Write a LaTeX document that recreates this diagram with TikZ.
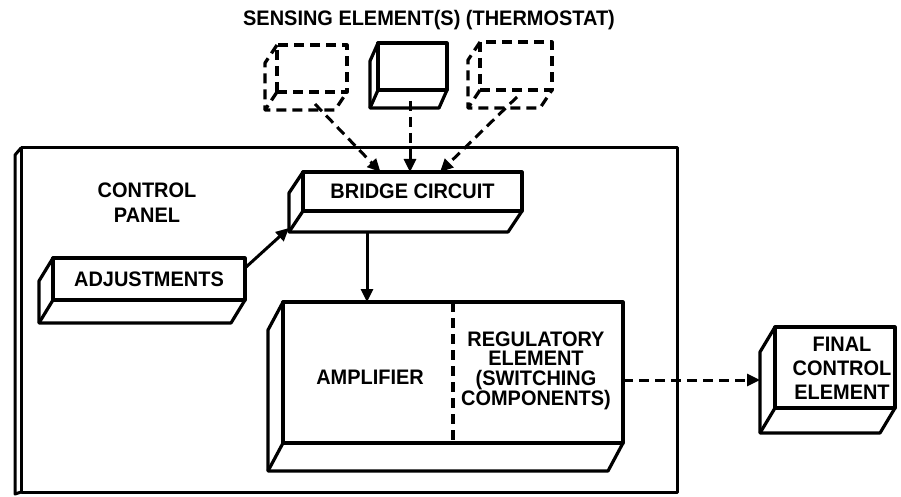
\documentclass[tikz,border=0pt]{standalone}
\usepackage{fontspec}
\setmainfont{Liberation Sans}[FakeStretch=0.95]
\usetikzlibrary{arrows.meta,calc}
\newcommand\depthfaces[4]{%
  \draw[#4] (#1.north west) -- ++(#2,#3) -- ($(#1.south west)+(#2,#3)$) -- ($(#1.south east)+(#2,#3)$) -- (#1.south east);
  \draw[#4] (#1.south west) -- ++(#2,#3);}
\tikzset{
  lbl/.style={font=\bfseries\fontsize{21}{24}\selectfont, align=center, inner sep=0pt},
  face/.style={draw, line width=3.2pt, rectangle, inner sep=0pt, outer sep=0pt, line join=round,
               font=\bfseries\fontsize{21}{24}\selectfont, align=center},
  solidline/.style={line width=3.2pt, line join=round},
  dashline/.style={line width=3.2pt, line join=round, dash pattern=on 10pt off 6pt},
  conn/.style={line width=3pt, -{Triangle[length=13pt,width=12pt]}},
  dconn/.style={conn, dash pattern=on 10pt off 6pt},
}
\begin{document}
\begin{tikzpicture}[x=1pt,y=-1pt]
\useasboundingbox (0,0) rectangle (901,497);
% control panel
\node[face, line width=3pt, minimum width=656pt, minimum height=344pt] (cp) at (349,320) {};
\draw[solidline, line width=3pt] (cp.north west) -- ++(-6,7) -- ($(cp.south west)+(-6,2)$) -- (cp.south west);
\node[lbl, font=\bfseries\fontsize{21}{25}\selectfont] (cpl) at (147,203) {CONTROL\\PANEL};
% title
\node[lbl] (title) at (429,20) {SENSING ELEMENT(S) (THERMOSTAT)};
% sensing elements
\node[face, dashline, minimum width=70pt, minimum height=47pt] (s1) at (312,68.5) {};
\depthfaces{s1}{-12}{18}{dashline}
\node[face, minimum width=69pt, minimum height=47pt] (s2) at (412.5,66.5) {};
\depthfaces{s2}{-8}{18}{solidline}
\node[face, dashline, minimum width=72pt, minimum height=48pt] (s3) at (516,66) {};
\depthfaces{s3}{-12}{18}{dashline}
% bridge
\node[face, minimum width=219pt, minimum height=39pt] (br) at (412.5,191.5) {BRIDGE CIRCUIT};
\depthfaces{br}{-14}{21}{solidline}
% adjustments
\node[face, minimum width=192pt, minimum height=42pt] (adj) at (149,279) {ADJUSTMENTS};
\depthfaces{adj}{-14}{23}{solidline}
% amplifier
\node[face, minimum width=340pt, minimum height=141pt] (amp) at (453,372.5) {};
\depthfaces{amp}{-15}{28}{solidline}
\draw[dashline] (amp.north) -- (amp.south);
\node[lbl] (ampl) at (370,377) {AMPLIFIER};
\node[lbl, font=\bfseries\fontsize{21}{19.5}\selectfont] (reg) at (536,371) {REGULATORY\\ELEMENT\\(SWITCHING\\COMPONENTS)};
% final control element
\node[face, minimum width=120pt, minimum height=81pt] (fce) at (835,367.5) {};
\depthfaces{fce}{-15}{25}{solidline}
\node[lbl] (fcel) at (842,368) {FINAL\\CONTROL\\ELEMENT};
% connector end points
\coordinate (s1o) at (315,104);
\coordinate (s2o) at (410,101);
\coordinate (s3o) at (517,97);
\coordinate (bt1) at ($(br.north)+(-32,0)$);
\coordinate (bt2) at ($(br.north)+(-2.5,0)$);
\coordinate (bt3) at ($(br.north)+(27.5,0)$);
\coordinate (bd) at ($(br.south west)+(64,21)$);
\coordinate (adjo) at ($(adj.north east)+(0,10)$);
\coordinate (bl) at ($(br.south west)+(-14,17)$);
\coordinate (ampo) at ($(amp.east)+(0,7.5)$);
\coordinate (fl) at ($(fce.west)+(-15,12.5)$);
% connectors
\draw[dconn] (s1o) -- (bt1);
\draw[dconn] (s2o) -- (bt2);
\draw[dconn] (s3o) -- (bt3);
\draw[conn] (bd) -- (bd |- amp.north);
\draw[conn] (adjo) -- (bl);
\draw[dconn] (ampo) -- (fl);
\end{tikzpicture}
\end{document}
